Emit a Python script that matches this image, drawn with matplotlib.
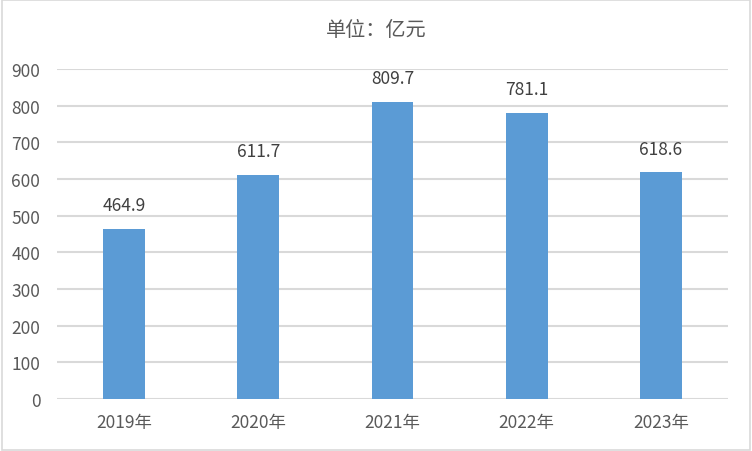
import matplotlib
matplotlib.use("Agg")
from matplotlib import pyplot as plt
from matplotlib.patches import Rectangle

plt.rcParams['font.family'] = ['Noto Sans CJK SC', 'DejaVu Sans']

# Chart data
years = ["2019年", "2020年", "2021年", "2022年", "2023年"]
values = [464.9, 611.7, 809.7, 781.1, 618.6]
yticks = [0, 100, 200, 300, 400, 500, 600, 700, 800, 900]

text_color = "#595959"
bar_color = "#5b9bd5"
grid_color = "#d9d9d9"

fig = plt.figure(figsize=(7.52, 4.52), dpi=100)
ax = fig.add_axes([57 / 752, 1 - 400 / 452, (728 - 57) / 752, (400 - 70) / 452])

x = range(len(years))
bars = ax.bar(x, values, width=0.31, color=bar_color, zorder=3)
for xi, v in zip(x, values):
    ax.text(xi, v + 40, f"{v:.1f}", ha="center", va="bottom",
            fontsize=12.5, color="#404040")

ax.set_xlim(-0.5, len(years) - 0.5)
ax.set_ylim(0, 900)
ax.set_yticks(yticks)
ax.set_yticklabels([str(t) for t in yticks])
ax.set_xticks(list(x))
ax.set_xticklabels(years)
ax.tick_params(axis="both", length=0, labelsize=12.5, labelcolor=text_color)
ax.tick_params(axis="x", pad=10)
ax.tick_params(axis="y", pad=12)
ax.grid(axis="y", color=grid_color, linewidth=1.5, zorder=0)
for s in ax.spines.values():
    s.set_visible(False)

fig.text(0.5, 1 - 30 / 452, "单位：亿元", ha="center", va="center",
         fontsize=14.5, color=text_color)

# outer frame
fig.patches.append(Rectangle((0.002, 0.003), 0.995, 0.994, transform=fig.transFigure,
                             fill=False, edgecolor="#d9d9d9", linewidth=1.2))

fig.savefig("out.png", dpi=100)
